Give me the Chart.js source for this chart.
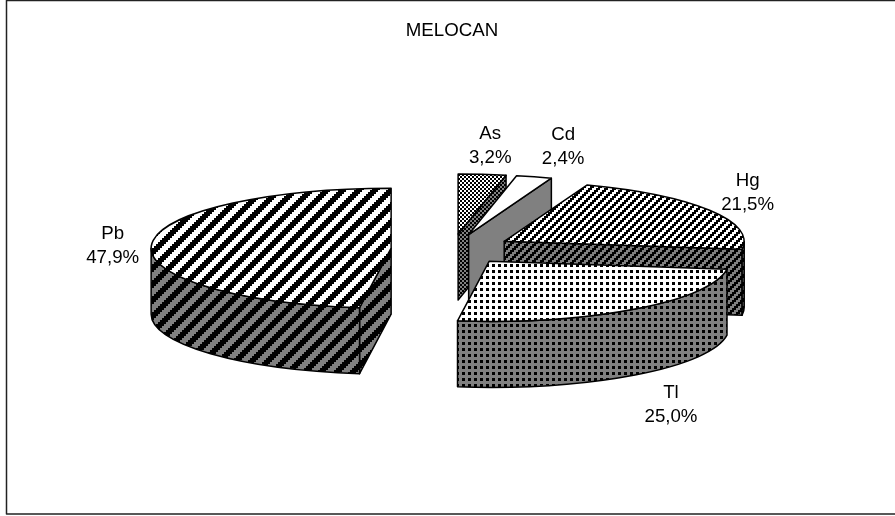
<!DOCTYPE html>
<html>
<head>
<meta charset="utf-8">
<title>MELOCAN</title>
<script src="https://cdn.jsdelivr.net/npm/chart.js@4/dist/chart.umd.min.js"></script>
<style>
  html, body { margin: 0; padding: 0; background: #fff; }
  canvas { display: block; }
</style>
</head>
<body>
<canvas id="pieChart" width="895" height="516"></canvas>
<script>
// Data
const chartTitle = "MELOCAN";
const labels = ["As", "Cd", "Hg", "Tl", "Pb"];
const values = [3.2, 2.4, 21.5, 25.0, 47.9];

// 3D look of the pie
const radius = 240;
const squash = 0.25;
const depth = 66;
const explode = 61;
const fontSize = 18.7;
const drawOrder = [4, 0, 1, 2, 3];

// Label distance from the middle of each slice's rim
const labelNudge = {
  As: [8, -40],
  Cd: [29, -42],
  Hg: [38, -29],
  Tl: [36, 18 + depth],
  Pb: [-39, -10]
};

// Small repeating fill made from a "is this pixel black" test
function makePattern(bg, size, isBlack) {
  const tile = document.createElement("canvas");
  tile.width = size;
  tile.height = size;
  const t = tile.getContext("2d");
  if (bg) {
    t.fillStyle = bg;
    t.fillRect(0, 0, size, size);
  }
  t.fillStyle = "#000";
  for (let y = 0; y < size; y++) {
    for (let x = 0; x < size; x++) {
      if (isBlack(x, y)) t.fillRect(x, y, 1, 1);
    }
  }
  return document.createElement("canvas").getContext("2d").createPattern(tile, "repeat");
}

const fills = {
  As: (x, y) => (Math.floor(x / 2) + Math.floor(y / 2)) % 2 === 0,
  Cd: () => false,
  Hg: (x, y) => (Math.floor(x / 2) + Math.floor(y / 2)) % 4 < 2,
  Tl: (x, y) => x < 3 && y < 3,
  Pb: (x, y) => (Math.floor(x / 2) + Math.floor(y / 2)) % 8 < 4
};
const tileSizes = { As: 4, Cd: 2, Hg: 8, Tl: 6, Pb: 16 };

const topFills = labels.map(l => makePattern("#fff", tileSizes[l], fills[l]));
const sideFills = labels.map(l => makePattern("#808080", tileSizes[l], fills[l]));

// Draws the slices as thick, pulled apart wedges using the arcs Chart.js laid out
const pie3d = {
  id: "pie3d",
  beforeDatasetsDraw(chart) {
    const ctx = chart.ctx;
    const arcs = chart.getDatasetMeta(0).data;

    drawOrder.forEach(i => {
      const arc = arcs[i];
      const a0 = arc.startAngle;
      const a1 = arc.endAngle;
      const mid = (a0 + a1) / 2;
      const cx = arc.x + Math.cos(mid) * explode;
      const cy = arc.y + Math.sin(mid) * explode * squash;
      const r = arc.outerRadius;
      const ry = r * squash;

      ctx.strokeStyle = "#000";
      ctx.lineWidth = 1.5;
      ctx.lineJoin = "round";

      const side = sideFills[i];
      side.setTransform(new DOMMatrix());
      ctx.fillStyle = side;

      // flat faces along the radius, only those turned to the viewer
      const faces = [];
      if (Math.cos(a0) < -0.001) faces.push(a0);
      if (Math.cos(a1) > 0.001) faces.push(a1);
      faces.forEach(a => {
        const px = cx + Math.cos(a) * r;
        const py = cy + Math.sin(a) * ry;
        ctx.beginPath();
        ctx.moveTo(cx, cy);
        ctx.lineTo(px, py);
        ctx.lineTo(px, py + depth);
        ctx.lineTo(cx, cy + depth);
        ctx.closePath();
        ctx.fill();
        ctx.stroke();
      });

      // outer rim, front half only
      const from = Math.max(a0, 0);
      const to = Math.min(a1, Math.PI);
      if (from < to) {
        ctx.beginPath();
        ctx.ellipse(cx, cy, r, ry, 0, from, to);
        ctx.ellipse(cx, cy + depth, r, ry, 0, to, from, true);
        ctx.closePath();
        ctx.fill();
        ctx.stroke();
      }

      // top face: the library's own arc in a squashed context
      ctx.save();
      ctx.translate(cx, cy);
      ctx.scale(1, squash);
      ctx.translate(-arc.x, -arc.y);
      topFills[i].setTransform(ctx.getTransform().inverse());
      arc.draw(ctx);
      ctx.restore();

      ctx.beginPath();
      ctx.moveTo(cx, cy);
      ctx.ellipse(cx, cy, r, ry, 0, a0, a1);
      ctx.closePath();
      ctx.stroke();
    });
    return false;
  },
  afterDraw(chart) {
    const ctx = chart.ctx;
    const arcs = chart.getDatasetMeta(0).data;

    ctx.save();
    ctx.fillStyle = "#000";
    ctx.font = fontSize + 'px "Liberation Sans"';
    ctx.textAlign = "center";
    ctx.textBaseline = "middle";
    arcs.forEach((arc, i) => {
      const mid = (arc.startAngle + arc.endAngle) / 2;
      const cx = arc.x + Math.cos(mid) * explode;
      const cy = arc.y + Math.sin(mid) * explode * squash;
      const nudge = labelNudge[labels[i]];
      const x = cx + Math.cos(mid) * arc.outerRadius + nudge[0];
      const y = cy + Math.sin(mid) * arc.outerRadius * squash + nudge[1];
      ctx.fillText(labels[i], x, y);
      ctx.fillText(values[i].toFixed(1).replace(".", ",") + "%", x, y + 24);
    });

    // frame round the chart, open on the right
    ctx.strokeStyle = "#222";
    ctx.lineWidth = 1.5;
    ctx.beginPath();
    ctx.moveTo(895, 0.5);
    ctx.lineTo(6.5, 0.5);
    ctx.lineTo(6.5, 514);
    ctx.lineTo(895, 514);
    ctx.stroke();
    ctx.restore();
  }
};

new Chart(document.getElementById("pieChart"), {
  type: "pie",
  data: {
    labels: labels,
    datasets: [{
      data: values,
      backgroundColor: topFills,
      borderWidth: 0
    }]
  },
  options: {
    responsive: false,
    animation: false,
    events: [],
    radius: radius,
    layout: { padding: { left: 9, bottom: 78 } },
    plugins: {
      legend: { display: false },
      tooltip: { enabled: false },
      title: {
        display: true,
        text: chartTitle,
        color: "#000",
        font: { family: "Liberation Sans", size: fontSize, weight: "normal" },
        padding: { top: 20, bottom: 18 }
      }
    }
  },
  plugins: [pie3d]
});
</script>
</body>
</html>
